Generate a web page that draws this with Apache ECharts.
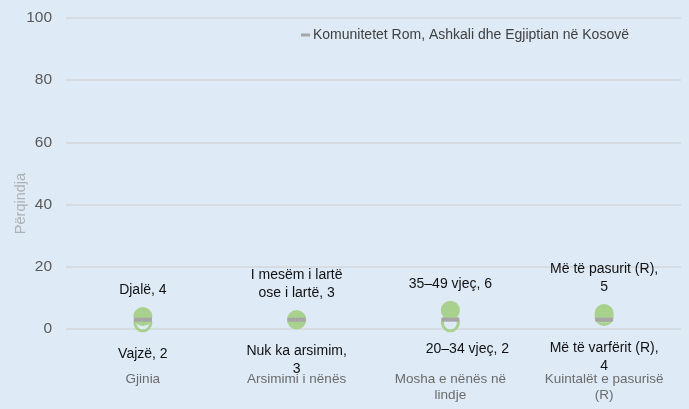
<!DOCTYPE html>
<html><head><meta charset="utf-8">
<script src="https://cdn.jsdelivr.net/npm/echarts@6/dist/echarts.min.js"></script>
<style>html,body{margin:0;padding:0;background:#deeaf6}#c{width:689px;height:409px}</style>
</head><body><div id="c"></div>
<script>
var categories = ['Gjinia', 'Arsimimi i nënës', 'Mosha e nënës në\nlindje', 'Kuintalët e pasurisë\n(R)'];
var highNames = ['Djalë', 'I mesëm i lartë\nose i lartë', '35–49 vjeç', 'Më të pasurit (R)'];
var highSep = [', ', ', ', ', ', ',\n'];
var highValues = [4, 3, 6, 5];
var lowNames = ['Vajzë', 'Nuk ka arsimim', '20–34 vjeç', 'Më të varfërit (R)'];
var lowSep = [', ', ',\n', ', ', ',\n'];
var lowValues = [2, 3, 2, 4];
var nationalName = 'Komunitetet Rom, Ashkali dhe Egjiptian në Kosovë';
var nationalValues = [3, 3, 3, 3];
var yTicks = [0, 20, 40, 60, 80, 100];

var bg = '#deeaf6';
var green = '#a9d18e';
var font = 'Liberation Sans, Arial, sans-serif';

var chart = echarts.init(document.getElementById('c'));
chart.setOption({
  backgroundColor: bg,
  animation: false,
  grid: {left: 66, right: 8, top: 18, bottom: 80, outerBoundsMode: 'none', containLabel: false},
  legend: {
    data: [nationalName], left: 296, top: 23, icon: 'rect', itemWidth: 9, itemHeight: 3, itemGap: 4,
    textStyle: {fontFamily: font, fontSize: 14, color: '#404040', padding: [0,0,0,-2]}
  },
  xAxis: {
    type: 'category', data: categories,
    axisLine: {show: false}, axisTick: {show: false},
    axisLabel: {margin: 42, fontFamily: font, fontSize: 13.5, color: '#6b6b6b', lineHeight: 16, interval: 0}
  },
  yAxis: {
    type: 'value', min: yTicks[0], max: yTicks[yTicks.length-1], interval: 20,
    name: 'Përqindja', nameLocation: 'middle', nameGap: 38, nameRotate: 90, nameMoveOverlap: false,
    nameTextStyle: {fontFamily: font, fontSize: 14.5, color: '#aeb0b2', padding: [0, 60, 0, 0]},
    axisLine: {show: false}, axisTick: {show: false},
    axisLabel: {margin: 14, fontFamily: font, fontSize: 15.5, color: '#595959'},
    splitLine: {lineStyle: {color: '#d3d7db', width: 1.5}}
  },
  series: [
    {
      name: 'low', type: 'scatter', symbol: 'circle', symbolSize: 16, z: 2,
      itemStyle: {color: bg, borderColor: green, borderWidth: 3, opacity: 1},
      data: lowValues.map(function (v, i) {
        var d = {value: v, name: lowNames[i]};
        if (i === 2) d.label = {offset: [17, -5]};
        return d;
      }),
      label: {
        show: true, position: 'bottom', distance: 13, fontFamily: font, fontSize: 14, color: '#111', lineHeight: 18,
        formatter: function (p) { return p.name + lowSep[p.dataIndex] + p.value; }
      }
    },
    {
      name: 'high', type: 'scatter', symbol: 'circle', symbolSize: 19, z: 3,
      itemStyle: {color: green, opacity: 1},
      data: highValues.map(function (v, i) { return {value: v, name: highNames[i]}; }),
      label: {
        show: true, position: 'top', distance: 8, fontFamily: font, fontSize: 14, color: '#111', lineHeight: 18,
        formatter: function (p) { return p.name + highSep[p.dataIndex] + p.value; }
      }
    },
    {
      name: nationalName, type: 'scatter', symbol: 'rect', symbolSize: [18, 4], z: 4,
      itemStyle: {color: '#a6a6a6', opacity: 1},
      data: nationalValues
    }
  ]
});
</script></body></html>
